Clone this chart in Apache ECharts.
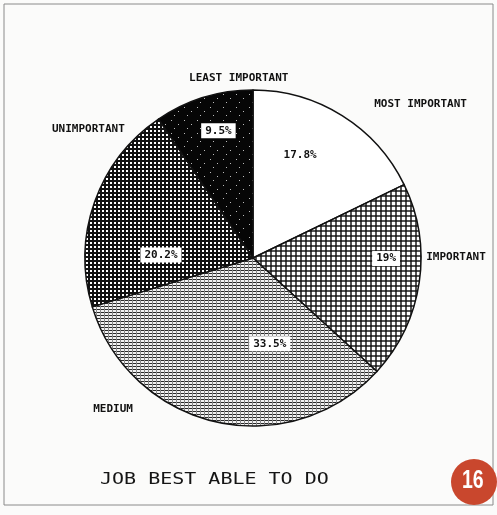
<!DOCTYPE html>
<html><head><meta charset="utf-8">
<script src="https://cdn.jsdelivr.net/npm/echarts@6/dist/echarts.min.js"></script>
<style>html,body{margin:0;padding:0;background:#fbfbfa;}#c{width:497px;height:515px;}</style>
</head><body><div id="c"></div>
<script>
const categories = ['MOST IMPORTANT', 'IMPORTANT', 'MEDIUM', 'UNIMPORTANT', 'LEAST IMPORTANT'];
const values = [17.8, 19, 33.5, 20.2, 9.5];
const valueLabels = ['17.8%', '19%', '33.5%', '20.2%', '9.5%'];
const titleText = 'JOB BEST ABLE TO DO';
const badgeText = '16';

// label nudges (style only)
const nameShift = [[23, -8], [-4, -26], [-75, -17], [41, -72], [93, -15]];
const valueShift = [[1, -29], [47, -12], [36, 1], [-10, 26], [-9, -44]];

function tile(w, h, draw) {
  const c = document.createElement('canvas');
  c.width = w; c.height = h;
  const g = c.getContext('2d');
  draw(g, w, h);
  return { image: c, repeat: 'repeat' };
}
const patWhite = '#ffffff';
const patImportant = tile(5, 5, (g, w, h) => {
  g.fillStyle = '#fff'; g.fillRect(0, 0, w, h);
  g.fillStyle = '#555'; g.fillRect(0, 0, w, 2); g.fillRect(0, 0, 2, h);
  g.fillStyle = '#222'; g.fillRect(0, 0, 2, 2);
});
const patMedium = tile(4, 3, (g, w, h) => {
  g.fillStyle = '#f2f2f2'; g.fillRect(0, 0, w, h);
  g.fillStyle = '#2a2a2a'; g.fillRect(0, 0, w, 1);
  g.fillStyle = '#888'; g.fillRect(0, 0, 1, h);
});
const patUnimportant = tile(4, 4, (g, w, h) => {
  g.fillStyle = '#fff'; g.fillRect(0, 0, w, h);
  g.fillStyle = '#111'; g.fillRect(0, 0, w, 2); g.fillRect(0, 0, 2, h);
});
const patLeast = tile(13, 13, (g, w, h) => {
  g.fillStyle = '#060606'; g.fillRect(0, 0, w, h);
  g.fillStyle = '#bbb';
  [[2,3],[9,7],[5,11]].forEach(p => g.fillRect(p[0], p[1], 1, 1));
});
const fills = [patWhite, patImportant, patMedium, patUnimportant, patLeast];

const mono = 'DejaVu Sans Mono';
const pieData = categories.map((n, i) => ({
  name: n, value: values[i],
  itemStyle: { color: fills[i] }
}));

const chart = echarts.init(document.getElementById('c'), null, { renderer: 'canvas' });
chart.setOption({
  animation: false,
  backgroundColor: '#fbfbfa',
  graphic: [
    { type: 'rect', shape: { x: 4, y: 4, width: 489, height: 501 }, style: { fill: 'none', stroke: '#8a8a8a', lineWidth: 1 } },
    { type: 'text', x: 100, y: 472, scaleX: 1.25, style: { text: titleText, font: '16px "DejaVu Sans Mono"', fill: '#151515' } },
    { type: 'circle', shape: { cx: 474, cy: 482, r: 23 }, style: { fill: '#c9472d' } },
    { type: 'text', x: 462, y: 468, scaleX: 0.75, style: { text: badgeText, font: 'bold 26px "Liberation Sans"', fill: '#fff' } }
  ],
  series: [
    {
      type: 'pie', center: [253, 258], radius: [0, 168], startAngle: 90, clockwise: true,
      data: pieData,
      itemStyle: { borderColor: '#111', borderWidth: 1.5 },
      label: {
        show: true, position: 'inner',
        formatter: p => valueLabels[p.dataIndex],
        fontFamily: mono, fontSize: 11, fontWeight: 'bold', color: '#111',
        backgroundColor: '#fff', padding: [2, 4]
      },
      labelLayout: p => ({ dx: valueShift[p.dataIndex][0], dy: valueShift[p.dataIndex][1] }),
      emphasis: { disabled: true }, silent: true
    },
    {
      type: 'pie', center: [253, 258], radius: [0, 168], startAngle: 90, clockwise: true,
      data: categories.map((n, i) => ({ name: n, value: values[i] })),
      itemStyle: { color: 'rgba(0,0,0,0)' },
      label: {
        show: true, position: 'outside', formatter: '{b}',
        fontFamily: mono, fontSize: 11, fontWeight: 'bold', color: '#111',
        overflow: 'none', width: 200, edgeDistance: 0
      },
      labelLine: { show: false, length: 4, length2: 2 },
      labelLayout: p => ({ dx: nameShift[p.dataIndex][0], dy: nameShift[p.dataIndex][1] }),
      emphasis: { disabled: true }, silent: true
    }
  ]
});
</script></body></html>
